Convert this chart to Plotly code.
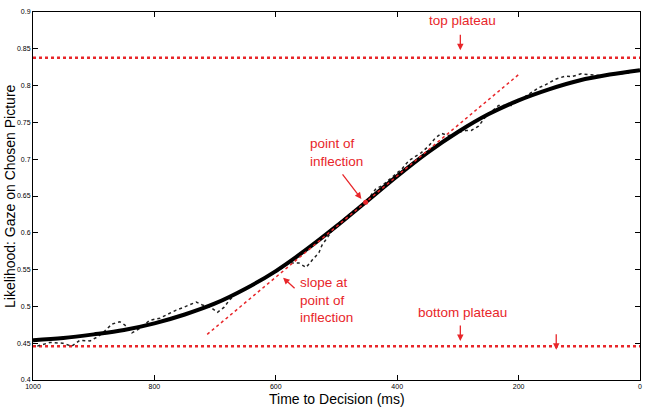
import plotly.graph_objects as go

# observed data (ms before decision, likelihood)
obs_ms = [993, 972, 951, 936, 923, 906, 895, 885, 870, 857, 849, 837, 824, 808, 791, 775, 764, 754, 742, 731,
          721, 706, 696, 685, 677, 665, 644, 622, 599, 578, 562, 550, 540, 529, 524, 517, 507, 496, 484, 476,
          468, 458, 452, 435, 425, 402, 392, 381, 369, 360, 348, 337, 327, 315, 302, 287, 278, 266, 255, 233,
          212, 195, 167, 156, 138, 123, 113, 97, 80, 57, 36, 20, 3]
obs_val = [0.446, 0.451, 0.450, 0.446, 0.454, 0.453, 0.458, 0.464, 0.476, 0.479, 0.475, 0.464, 0.470, 0.481,
           0.484, 0.491, 0.495, 0.498, 0.502, 0.506, 0.502, 0.498, 0.492, 0.499, 0.508, 0.518, 0.526, 0.538,
           0.547, 0.559, 0.559, 0.553, 0.563, 0.573, 0.583, 0.592, 0.603, 0.613, 0.622, 0.627, 0.632, 0.637,
           0.641, 0.660, 0.664, 0.680, 0.687, 0.698, 0.705, 0.709, 0.718, 0.729, 0.735, 0.732, 0.736, 0.739,
           0.739, 0.745, 0.757, 0.773, 0.773, 0.782, 0.797, 0.801, 0.809, 0.813, 0.812, 0.816, 0.815, 0.813,
           0.816, 0.817, 0.820]

# fitted sigmoid
fit_ms = [1000, 950, 900, 850, 800, 750, 700, 650, 600, 550, 500, 452, 400, 350, 300, 250, 200, 150, 100, 50, 0]
fit_val = [0.454, 0.457, 0.462, 0.468, 0.477, 0.489, 0.504, 0.524, 0.548, 0.577, 0.609, 0.6415, 0.677, 0.709,
           0.737, 0.761, 0.780, 0.795, 0.807, 0.815, 0.821]

top_plateau = 0.838
bottom_plateau = 0.446
inflection_ms = 452
inflection_val = 0.6415
tangent_ms = [713, 197]
tangent_val = [0.462, 0.817]

x_range = [1000, 0]
y_range = [0.4, 0.9]
x_ticks = [1000, 800, 600, 400, 200, 0]
y_ticks = [0.4, 0.45, 0.5, 0.55, 0.6, 0.65, 0.7, 0.75, 0.8, 0.85, 0.9]
y_tick_text = ["0.4", "0.45", "0.5", "0.55", "0.6", "0.65", "0.7", "0.75", "0.8", "0.85", "0.9"]

RED = "#e8262a"
FONT = "Liberation Sans, Arial, sans-serif"

fig = go.Figure()
fig.add_trace(go.Scatter(x=x_range, y=[top_plateau, top_plateau], mode="lines",
                         line=dict(color=RED, width=2.5, dash="dot"), hoverinfo="skip"))
fig.add_trace(go.Scatter(x=x_range, y=[bottom_plateau, bottom_plateau], mode="lines",
                         line=dict(color=RED, width=2.5, dash="dot"), hoverinfo="skip"))
fig.add_trace(go.Scatter(x=obs_ms, y=obs_val, mode="lines",
                         line=dict(color="#222222", width=1.5, dash="dot")))
fig.add_trace(go.Scatter(x=fit_ms, y=fit_val, mode="lines", line_shape="spline",
                         line=dict(color="black", width=4)))
fig.add_trace(go.Scatter(x=tangent_ms, y=tangent_val, mode="lines",
                         line=dict(color=RED, width=1.5, dash="dot")))
fig.add_trace(go.Scatter(x=[inflection_ms], y=[inflection_val], mode="markers",
                         marker=dict(color=RED, size=5)))

axis_common = dict(showline=True, linecolor="black", linewidth=1, mirror="allticks",
                   ticks="inside", ticklen=5, tickcolor="black", showgrid=False, zeroline=False,
                   tickfont=dict(size=7, family=FONT, color="black"))
fig.update_xaxes(range=x_range, tickvals=x_ticks, ticktext=[str(t) for t in x_ticks], **axis_common)
fig.update_yaxes(range=y_range, tickvals=y_ticks, ticktext=y_tick_text, **axis_common)

annots = []
# axis titles
annots.append(dict(text="Time to Decision (ms)", xref="paper", yref="paper", x=0.5, y=0, yshift=-19,
                   showarrow=False, yanchor="middle", font=dict(size=14, family=FONT, color="black")))
annots.append(dict(text="Likelihood: Gaze on Chosen Picture", xref="paper", yref="paper", x=0, y=0.5,
                   xshift=-23, textangle=-90, showarrow=False, xanchor="center",
                   font=dict(size=14, family=FONT, color="black")))
# labels
lab_font = dict(size=13.5, family=FONT, color=RED)
annots.append(dict(text="top plateau", x=293, y=0.888, showarrow=False, font=lab_font))
annots.append(dict(text="bottom plateau", x=293, y=0.492, showarrow=False, font=lab_font))
annots.append(dict(text="point of<br>inflection", x=547, y=0.709, showarrow=False, align="left",
                   xanchor="left", font=lab_font))
annots.append(dict(text="slope at<br>point of<br>inflection", x=563, y=0.509, showarrow=False,
                   align="left", xanchor="left", font=lab_font))
# arrows
arrow = dict(showarrow=True, arrowhead=2, arrowsize=1, arrowwidth=1.3, arrowcolor=RED, text="",
             axref="pixel", ayref="pixel")
annots.append(dict(x=296, y=0.848, ax=0, ay=-17, **arrow))
annots.append(dict(x=296, y=0.453, ax=0, ay=-17, **arrow))
annots.append(dict(x=138, y=0.441, ax=0, ay=-17, **arrow))
annots.append(dict(x=459, y=0.646, ax=-20, ay=-26, **arrow))
annots.append(dict(x=588, y=0.539, ax=13, ay=12, **arrow))

fig.update_layout(width=650, height=408, margin=dict(l=33, r=8, t=11, b=28),
                  paper_bgcolor="white", plot_bgcolor="white", showlegend=False,
                  annotations=annots, font=dict(family=FONT))
fig.write_html("out.html")
